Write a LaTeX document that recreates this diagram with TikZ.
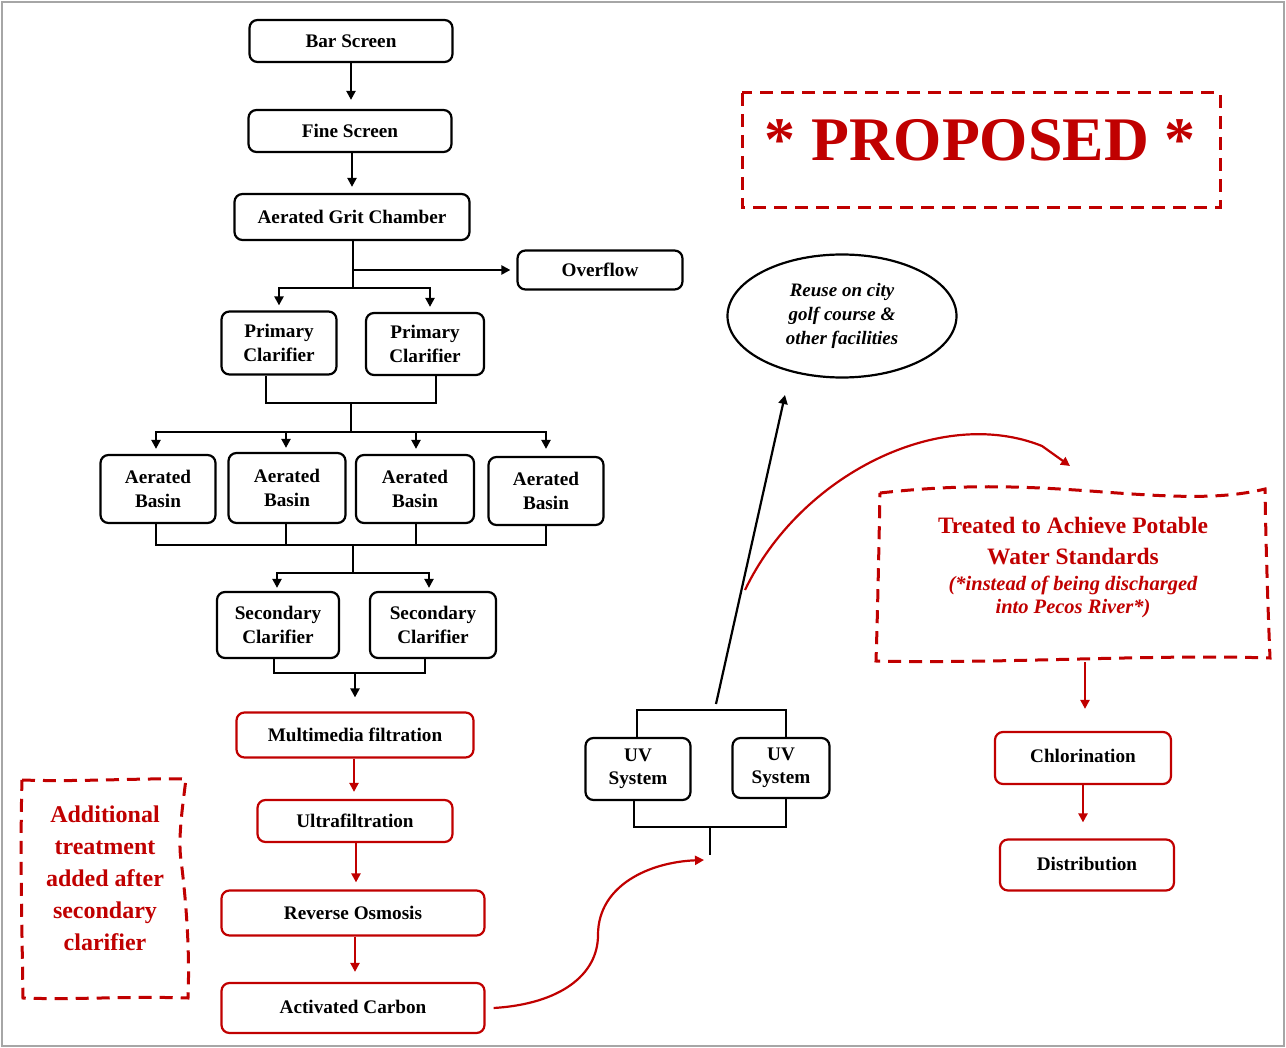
\documentclass[tikz,border=0pt]{standalone}
\usepackage{fontspec}
\setmainfont{Liberation Serif}
\usetikzlibrary{arrows.meta,shapes.geometric}
\definecolor{dred}{HTML}{C00000}
\begin{document}
\begin{tikzpicture}[x=1pt,y=-1pt,
  box/.style={draw=black,line width=2.2pt,rounded corners=8pt,align=center,inner sep=0pt,
    font=\fontsize{19.2}{23.5}\selectfont\bfseries},
  rbox/.style={box,draw=dred},
  conn/.style={line width=2.2pt},
  arr/.style={conn,-{Triangle[length=9pt,width=9pt]},shorten >=6pt},
  rarr/.style={arr,draw=dred},
  rdash/.style={draw=dred,line width=3pt,dash pattern=on 13pt off 8pt},
]
\useasboundingbox (0,0) rectangle (1286,1048);
\draw[draw=black!35,line width=2pt] (2,2) rectangle (1284,1046);

% ---- black process chain ----
\node[box,minimum width=203pt,minimum height=42pt] (bar) at (351,41) {Bar Screen};
\node[box,minimum width=203pt,minimum height=42pt] (fine) at (350,131) {Fine Screen};
\node[box,minimum width=235pt,minimum height=46pt] (agc) at (352,217) {Aerated Grit Chamber};
\node[box,minimum width=165pt,minimum height=39pt] (over) at (600,270) {Overflow};
\node[box,minimum width=115pt,minimum height=63pt] (pc1) at (279,343) {Primary\\Clarifier};
\node[box,minimum width=118pt,minimum height=62pt] (pc2) at (425,344) {Primary\\Clarifier};
\node[box,minimum width=115pt,minimum height=68pt] (ab1) at (158,489) {Aerated\\Basin};
\node[box,minimum width=117pt,minimum height=70pt] (ab2) at (287,488) {Aerated\\Basin};
\node[box,minimum width=118pt,minimum height=68pt] (ab3) at (415,489) {Aerated\\Basin};
\node[box,minimum width=115pt,minimum height=68pt] (ab4) at (546,491) {Aerated\\Basin};
\node[box,minimum width=122pt,minimum height=66pt] (sc1) at (278,625) {Secondary\\Clarifier};
\node[box,minimum width=126pt,minimum height=66pt] (sc2) at (433,625) {Secondary\\Clarifier};

% ---- red additional treatment ----
\node[rbox,minimum width=237pt,minimum height=45pt] (mf) at (355,735) {Multimedia filtration};
\node[rbox,minimum width=195pt,minimum height=42pt] (uf) at (355,821) {Ultrafiltration};
\node[rbox,minimum width=263pt,minimum height=45pt] (ro) at (353,913) {Reverse Osmosis};
\node[rbox,minimum width=263pt,minimum height=50pt] (ac) at (353,1008) {\raisebox{3pt}{Activated Carbon}};

% ---- UV ----
\node[box,minimum width=105pt,minimum height=62pt] (uv1) at (638,769) {UV\\System};
\node[box,minimum width=97pt,minimum height=60pt] (uv2) at (781,768) {UV\\System};

% ---- reuse ellipse ----
\node[draw,ellipse,line width=2.2pt,minimum width=229pt,minimum height=123pt,inner sep=0pt,align=center,
  font=\fontsize{19}{24}\selectfont\bfseries\itshape] (reuse) at (842,316) {Reuse on city\\golf course \&\\other facilities};

% ---- chlorination / distribution ----
\node[rbox,minimum width=176pt,minimum height=52pt] (chl) at (1083,758) {\raisebox{4pt}{Chlorination}};
\node[rbox,minimum width=174pt,minimum height=51pt] (dist) at (1087,865) {\raisebox{3pt}{Distribution}};

% ---- PROPOSED ----
\draw[rdash] (742,93) rectangle (1220,208);
\node[font=\fontsize{62}{62}\selectfont\bfseries,text=dred,inner sep=0pt] (prop) at (980,140) {* PROPOSED *};

% ---- Additional treatment note ----
\draw[rdash] (22,780) .. controls (80,782) and (140,778) .. (186,779)
  .. controls (182,810) and (178,840) .. (181,860)
  .. controls (186,900) and (190,950) .. (188,998)
  .. controls (130,996) and (70,1000) .. (23,998)
  .. controls (22,930) and (20,850) .. cycle;
\node[font=\fontsize{24}{32}\selectfont\bfseries,text=dred,align=center,inner sep=0pt] (addl) at (105,878)
  {Additional\\treatment\\added after\\secondary\\clarifier};

% ---- Treated note ----
\draw[rdash] (880,493) .. controls (960,484) and (1020,486) .. (1090,491)
  .. controls (1170,497) and (1220,500) .. (1265,489)
  .. controls (1266,550) and (1268,610) .. (1270,658)
  .. controls (1150,654) and (1000,664) .. (876,661)
  .. controls (878,600) and (879,540) .. cycle;
\node[font=\fontsize{23.5}{28}\selectfont\bfseries,text=dred,align=center,inner sep=0pt] (treated) at (1073,568)
  {Treated to Achieve Potable\\[3pt]Water Standards\\[-2pt]
   {\fontsize{20.5}{24}\selectfont\itshape (*instead of being discharged}\\[-5pt]
   {\fontsize{20.5}{24}\selectfont\itshape into Pecos River*)}};

% ---- connectors ----
\draw[arr,shorten >=9pt] (bar.south) -- (bar.south |- fine.north);
\draw[arr,shorten >=6pt] ([xshift=2pt]fine.south) -- ([xshift=2pt]fine.south |- agc.north);
\coordinate (j0) at (353,270);
\coordinate (j1) at (353,288);
\draw[conn] ([xshift=1pt]agc.south) -- (j1);
\draw[arr] (j0) -- (over.west);
\draw[arr,shorten >=5pt] (j1) -| (pc1.north);
\draw[arr,shorten >=5pt] (j1) -| ([xshift=5pt]pc2.north);
\coordinate (j2) at (351,403);
\coordinate (j3) at (351,432);
\draw[conn] ([xshift=-13pt]pc1.south) |- ([xshift=11pt]pc2.south |- j2) -- ([xshift=11pt]pc2.south);
\draw[conn] (j2) -- (j3);
\draw[arr,shorten >=5pt] (j3) -| ([xshift=-2pt]ab1.north);
\draw[arr,shorten >=4pt] (j3) -| ([xshift=-1pt]ab2.north);
\draw[arr,shorten >=5pt] (j3) -| ([xshift=1pt]ab3.north);
\draw[arr,shorten >=7pt] (j3) -| (ab4.north);
\coordinate (j4) at (353,545);
\coordinate (j5) at (353,573);
\draw[conn] ([xshift=-2pt]ab1.south) |- (ab4.south |- j4) -- (ab4.south);
\draw[conn] ([xshift=-1pt]ab2.south) -- ([xshift=-1pt]ab2.south |- j4);
\draw[conn] ([xshift=1pt]ab3.south) -- ([xshift=1pt]ab3.south |- j4);
\draw[conn] (j4) -- (j5);
\draw[arr,shorten >=3pt] (j5) -| ([xshift=-1pt]sc1.north);
\draw[arr,shorten >=3pt] (j5) -| ([xshift=-4pt]sc2.north);
\coordinate (j6) at (355,673);
\draw[conn] ([xshift=-4pt]sc1.south) |- ([xshift=-8pt]sc2.south |- j6) -- ([xshift=-8pt]sc2.south);
\draw[arr,shorten >=14pt] (j6) -- (j6 |- mf.north);

\draw[rarr,shorten >=7pt] ([xshift=-1pt]mf.south) -- ([xshift=-1pt]mf.south |- uf.north);
\draw[rarr,shorten >=7pt] ([xshift=1pt]uf.south) -- ([xshift=1pt]uf.south |- ro.north);
\draw[rarr,shorten >=10pt] ([xshift=2pt]ro.south) -- ([xshift=2pt]ro.south |- ac.north);

\coordinate (uvt) at (712,710);
\coordinate (uvb) at (710,827);
\coordinate (uvs) at (710,855);
\draw[conn] ([xshift=-1pt]uv1.north) |- ([xshift=5pt]uv2.north |- uvt) -- ([xshift=5pt]uv2.north);
\draw[conn] ([xshift=-4pt]uv1.south) |- ([xshift=5pt]uv2.south |- uvb) -- ([xshift=5pt]uv2.south);
\draw[conn] (uvb) -- (uvs);

\coordinate (up0) at (716,704);
\coordinate (up1) at (785,395);
\draw[arr,shorten >=0pt] (up0) -- (up1);

\coordinate (ce) at (704,860);
\draw[rarr,shorten >=0pt] ([xshift=8pt]ac.east) .. controls (560,1004) and (598,975) .. (598,935)
  .. controls (598,885) and (650,862) .. (ce);

\coordinate (c2s) at (745,590);
\coordinate (c2e) at (1070,466);
\draw[rarr,shorten >=0pt] (c2s) .. controls (800,475) and (940,405) .. (1042,446) -- (c2e);

\coordinate (tb) at (1085,662);
\draw[rarr,shorten >=22pt] (tb) -- (tb |- chl.north);
\draw[rarr,shorten >=16pt] (chl.south) -- (chl.south |- dist.north);
\end{tikzpicture}
\end{document}
